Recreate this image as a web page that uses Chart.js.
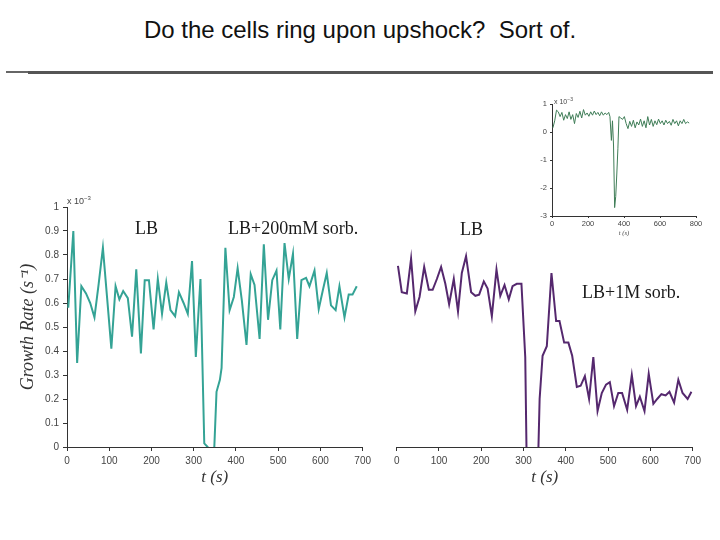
<!DOCTYPE html>
<html>
<head>
<meta charset="utf-8">
<script src="https://cdn.jsdelivr.net/npm/chart.js@4.4.1/dist/chart.umd.min.js"></script>
<style>
  body { margin: 0; width: 720px; height: 540px; background: #fff; position: relative; overflow: hidden;
         font-family: "Liberation Sans", Arial, sans-serif; }
  .abs { position: absolute; }
  canvas { position: absolute; }
  #title { left: 0; top: 16px; width: 720px; text-align: center; font-size: 24px; color: #111; white-space: pre; }
  .serif { font-family: "Liberation Serif", "Times New Roman", serif; font-size: 18px; color: #1a1a1a; white-space: nowrap; }
  .exp { font-size: 9px; color: #444; white-space: nowrap; }
</style>
</head>
<body>

<div id="title" class="abs">Do the cells ring upon upshock?  Sort of.</div>
<div class="abs" style="left:6px; top:71px; width:22px; height:2px; background:#666;"></div>
<div class="abs" style="left:28px; top:71px; width:685px; height:3px; background:#555;"></div>

<canvas id="leftChart" width="375" height="300" style="left:0; top:195px;"></canvas>
<canvas id="rightChart" width="330" height="300" style="left:380px; top:195px;"></canvas>
<canvas id="insetChart" width="180" height="150" style="left:530px; top:92px;"></canvas>

<div class="abs exp" style="left:67px; top:195px;">x 10<sup style="font-size:6px;">−3</sup></div>
<div class="abs exp" style="left:554px; top:96px; font-size:7px;">x 10<sup style="font-size:5px;">−3</sup></div>

<div class="abs serif" style="left:135px; top:218px;">LB</div>
<div class="abs serif" style="left:228px; top:218px;">LB+200mM sorb.</div>
<div class="abs serif" style="left:460px; top:219px;">LB</div>
<div class="abs serif" style="left:582px; top:282px;">LB+1M sorb.</div>

<script>
// growth rate values are in units of 10^-3 s^-1

// LB -> LB+200mM sorbitol
const leftTimes = [3, 15, 24, 34, 45, 55, 65, 75, 85, 95, 105, 115, 124, 133, 144, 154, 164, 175, 184, 194,
    205, 215, 225, 235, 245, 256, 265, 276, 286, 296, 305, 316, 325, 333, 342, 354, 362, 366, 375, 385,
    395, 404, 414, 425, 435, 444, 456, 466, 476, 486, 496, 505, 515, 525, 535, 545, 555, 566, 574, 586,
    596, 606, 615, 625, 636, 645, 657, 667, 676, 686];
const leftRates = [0.58, 0.90, 0.35, 0.67, 0.64, 0.60, 0.54, 0.68, 0.83, 0.62, 0.41, 0.67, 0.615, 0.65, 0.62, 0.46, 0.74, 0.39, 0.695, 0.695,
    0.49, 0.70, 0.555, 0.685, 0.57, 0.545, 0.645, 0.60, 0.555, 0.775, 0.375, 0.70, 0.015, 0.0, -0.3, 0.23, 0.28, 0.33, 0.83, 0.57,
    0.625, 0.745, 0.61, 0.425, 0.72, 0.675, 0.45, 0.845, 0.53, 0.695, 0.735, 0.49, 0.85, 0.70, 0.805, 0.45, 0.695, 0.705, 0.67, 0.735,
    0.575, 0.655, 0.725, 0.59, 0.57, 0.67, 0.54, 0.635, 0.635, 0.67];

// LB -> LB+1M sorbitol
const rightTimes = [3, 12, 24, 34, 44, 54, 65, 76, 85, 95, 105, 115, 124, 135, 145, 154, 164, 176, 186, 195,
    206, 215, 225, 236, 245, 255, 265, 274, 284, 295, 304, 317, 338, 345, 355, 366, 377, 385, 396, 406,
    415, 426, 435, 445, 455, 465, 475, 485, 495, 504, 514, 524, 533, 545, 556, 566, 575, 586, 596, 607,
    616, 626, 636, 645, 656, 666, 676, 688, 697];
const rightRates = [0.755, 0.645, 0.64, 0.785, 0.565, 0.625, 0.75, 0.655, 0.655, 0.70, 0.75, 0.68, 0.595, 0.70, 0.565, 0.725, 0.795, 0.645, 0.63, 0.635,
    0.69, 0.66, 0.545, 0.74, 0.63, 0.675, 0.615, 0.67, 0.68, 0.68, 0.375, -1.3, 0.20, 0.38, 0.42, 0.725, 0.525, 0.525, 0.435, 0.435,
    0.38, 0.25, 0.255, 0.295, 0.20, 0.375, 0.15, 0.225, 0.26, 0.27, 0.17, 0.225, 0.225, 0.155, 0.30, 0.17, 0.21, 0.15, 0.305, 0.18,
    0.20, 0.22, 0.215, 0.23, 0.185, 0.28, 0.225, 0.20, 0.23];

// inset: full range of the 1M trace
const insetTimes = [5, 15, 25, 35, 45, 55, 65, 75, 85, 95, 105, 115, 125, 135, 145, 155, 165, 175, 185, 195,
    205, 215, 225, 235, 245, 255, 265, 275, 285, 295, 305, 315, 322, 330, 336, 342, 348, 354, 360, 366,
    372, 382, 392, 402, 412, 422, 432, 442, 452, 462, 472, 482, 492, 502, 512, 522, 532, 542, 552, 562,
    572, 582, 592, 602, 612, 622, 632, 642, 652, 662, 672, 682, 692, 702, 712, 722, 732, 742, 752, 762];
const insetRates = [0.15, 0.40, 0.78, 0.72, 0.55, 0.70, 0.42, 0.62, 0.48, 0.72, 0.45, 0.62, 0.30, 0.66, 0.52, 0.74, 0.50, 0.80, 0.60, 0.68,
    0.56, 0.72, 0.60, 0.75, 0.62, 0.70, 0.58, 0.72, 0.60, 0.68, 0.62, 0.70, 0.55, -0.30, 0.40, -0.50, -2.70, -2.30, -1.50, -0.60,
    0.55, 0.50, 0.45, 0.55, 0.30, 0.12, 0.38, 0.20, 0.42, 0.15, 0.36, 0.25, 0.46, 0.20, 0.40, 0.15, 0.55, 0.25, 0.45, 0.20,
    0.40, 0.26, 0.46, 0.30, 0.40, 0.25, 0.42, 0.30, 0.38, 0.24, 0.45, 0.30, 0.40, 0.22, 0.40, 0.30, 0.45, 0.30, 0.36, 0.32];

const mainXTicks = [0, 100, 200, 300, 400, 500, 600, 700];
const mainYTicks = [0, 0.1, 0.2, 0.3, 0.4, 0.5, 0.6, 0.7, 0.8, 0.9, 1];
const insetXTicks = [0, 200, 400, 600, 800];
const insetYTicks = [-3, -2, -1, 0, 1];

const tickColor = "#444";
const axisColor = "#333";

function toPoints(xs, ys) {
    return xs.map((x, i) => ({ x: x, y: ys[i] }));
}

function lineDataset(xs, ys, color, width) {
    return {
        data: toPoints(xs, ys),
        borderColor: color,
        borderWidth: width,
        pointRadius: 0,
        tension: 0,
        showLine: true,
        fill: false
    };
}

// axis with a fixed tick list
function fixedTicks(list) {
    return function(scale) {
        scale.ticks = list.map(v => ({ value: v }));
    };
}

// plain labels: "1" not "1.0"
const plainLabel = v => String(v);

function makeMainChart(id, xs, ys, color, showY, pad) {
    const ctx = document.getElementById(id).getContext("2d");
    return new Chart(ctx, {
        type: "scatter",
        data: { datasets: [lineDataset(xs, ys, color, 2)] },
        options: {
            responsive: false,
            animation: false,
            layout: { padding: pad },
            plugins: { legend: { display: false }, tooltip: { enabled: false } },
            scales: {
                x: {
                    type: "linear",
                    min: 0, max: 700,
                    afterBuildTicks: fixedTicks(mainXTicks),
                    afterFit: s => { s.height = 48; },
                    grid: { drawOnChartArea: false, tickLength: 4, color: axisColor },
                    border: { color: axisColor },
                    ticks: { color: tickColor, padding: 4, callback: plainLabel, font: { family: "Liberation Sans", size: 10 } },
                    title: {
                        display: true, text: "t (s)", color: "#333",
                        padding: { top: 0, bottom: 7 },
                        font: { family: "Liberation Serif", style: "italic", size: 17 }
                    }
                },
                y: {
                    type: "linear",
                    display: showY,
                    min: 0, max: 1,
                    afterBuildTicks: fixedTicks(mainYTicks),
                    afterFit: s => { s.width = showY ? 67 : 0; },
                    grid: { drawOnChartArea: false, tickLength: 4, color: axisColor },
                    border: { color: axisColor },
                    ticks: { color: tickColor, padding: 4, callback: plainLabel, font: { family: "Liberation Sans", size: 10 } },
                    title: {
                        display: true, text: "Growth Rate (s\u207B\u00B9)", color: "#333",
                        padding: { top: 17, bottom: 0 },
                        font: { family: "Liberation Serif", style: "italic", size: 18 }
                    }
                }
            }
        }
    });
}

function makeInset() {
    const ctx = document.getElementById("insetChart").getContext("2d");
    return new Chart(ctx, {
        type: "scatter",
        data: { datasets: [lineDataset(insetTimes, insetRates, "#3f7d57", 1)] },
        options: {
            responsive: false,
            animation: false,
            layout: { padding: { top: 12, right: 14 } },
            plugins: { legend: { display: false }, tooltip: { enabled: false } },
            scales: {
                x: {
                    type: "linear",
                    min: 0, max: 800,
                    afterBuildTicks: fixedTicks(insetXTicks),
                    afterFit: s => { s.height = 26; },
                    grid: { drawOnChartArea: false, tickLength: 2, color: axisColor },
                    border: { color: axisColor },
                    ticks: { color: tickColor, padding: 1, callback: plainLabel, font: { family: "Liberation Sans", size: 7.5 } },
                    title: {
                        display: true, text: "t (s)", color: "#444",
                        padding: { top: 0, bottom: 5 },
                        font: { family: "Liberation Serif", style: "italic", size: 6.5 }
                    }
                },
                y: {
                    type: "linear",
                    min: -3, max: 1,
                    afterBuildTicks: fixedTicks(insetYTicks),
                    afterFit: s => { s.width = 22; },
                    grid: { drawOnChartArea: false, tickLength: 2, color: axisColor },
                    border: { color: axisColor },
                    ticks: { color: tickColor, padding: 3, callback: plainLabel, font: { family: "Liberation Sans", size: 7.5 } }
                }
            }
        }
    });
}

window.onload = function() {
    makeMainChart("leftChart", leftTimes, leftRates, "#34a395", true, { top: 12, right: 12 });
    makeMainChart("rightChart", rightTimes, rightRates, "#55286e", false, { left: 16.7, top: 12, right: 17.3 });
    makeInset();
};
</script>
</body>
</html>
